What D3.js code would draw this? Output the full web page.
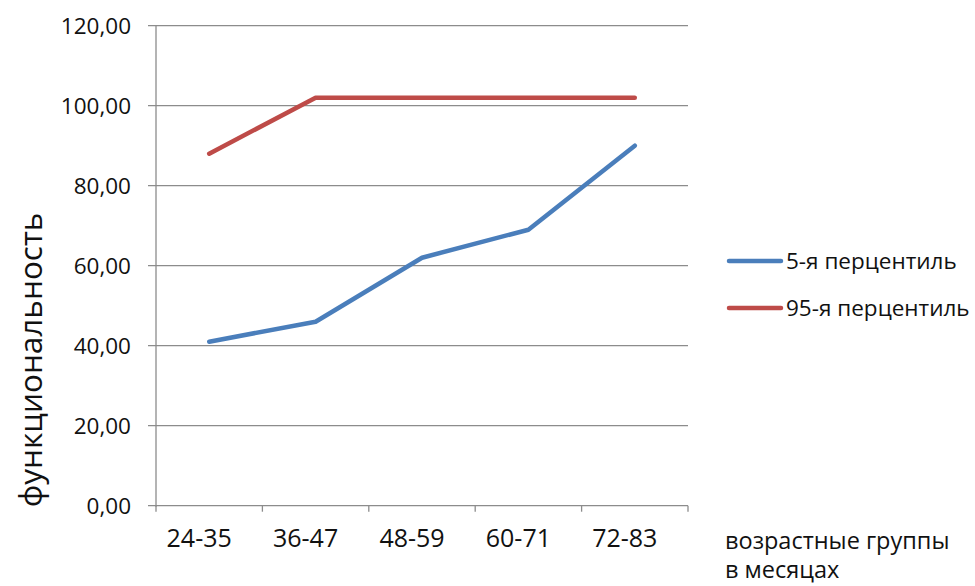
<!DOCTYPE html>
<html><head><meta charset="utf-8">
<script src="https://cdn.jsdelivr.net/npm/d3@7"></script>
<style>body{margin:0;background:#fff}svg{display:block}text{font-family:"Open Sans",sans-serif;fill:#111}</style>
</head><body>
<script>
const categories = ["24-35","36-47","48-59","60-71","72-83"];
const p5 = [41, 46, 62, 69, 90];
const p95 = [88, 102, 102, 102, 102];
const seriesNames = ["5-я перцентиль","95-я перцентиль"];
const yTicks = [0,20,40,60,80,100,120];
const colors = ["#4a7ebb","#be4b48"];

const W=975,H=586;
const svg=d3.select("body").append("svg").attr("width",W).attr("height",H);
const L=156,R=688,T=25.7,B=505.7;
const x=d3.scaleBand().domain(categories).range([L,R]);
const y=d3.scaleLinear().domain([0,120]).range([B,T]);

// gridlines
svg.append("g").selectAll("line").data(yTicks).join("line")
  .attr("x1",L-8).attr("x2",R).attr("y1",d=>y(d)).attr("y2",d=>y(d))
  .attr("stroke","#8c8c8c").attr("stroke-width",1.3);
// y axis line
svg.append("line").attr("x1",L).attr("x2",L).attr("y1",T).attr("y2",B+1).attr("stroke","#8c8c8c").attr("stroke-width",1.3);
// x ticks
const xt=categories.map((c,i)=>x(c)).concat([R]);
svg.append("g").selectAll("line").data(xt).join("line")
  .attr("x1",d=>d).attr("x2",d=>d).attr("y1",B).attr("y2",B+6)
  .attr("stroke","#8c8c8c").attr("stroke-width",1.3);
// y labels
const fmt=d=>d3.format(".2f")(d).replace(".",",");
svg.append("g").selectAll("text").data(yTicks).join("text")
  .attr("x",131).attr("y",d=>y(d)).attr("dy","0.35em").attr("text-anchor","end")
  .attr("font-size",22.5).text(fmt);
// x labels
svg.append("g").selectAll("text").data(categories).join("text")
  .attr("x",d=>x(d)+x.bandwidth()/2-10).attr("y",547).attr("text-anchor","middle")
  .attr("font-size",25).text(d=>d);
// lines
const line=d3.line().x((d,i)=>x(categories[i])+x.bandwidth()/2).y(d=>y(d));
[p5,p95].forEach((s,k)=>{
  svg.append("path").datum(s).attr("d",line).attr("fill","none")
    .attr("stroke",colors[k]).attr("stroke-width",4.5).attr("stroke-linejoin","round").attr("stroke-linecap","round");
});
// legend
const ly=[261,308];
seriesNames.forEach((n,k)=>{
  svg.append("line").attr("x1",729).attr("x2",781).attr("y1",ly[k]).attr("y2",ly[k])
    .attr("stroke",colors[k]).attr("stroke-width",4.5).attr("stroke-linecap","round");
  svg.append("text").attr("x",786).attr("y",ly[k]).attr("dy","0.35em").attr("font-size",22.5).text(n);
});
// axis titles
svg.append("text").attr("transform","translate(42,360) rotate(-90)").attr("text-anchor","middle")
  .attr("font-size",31.5).text("функциональность");
svg.append("text").attr("x",725).attr("y",549).attr("font-size",23.5).text("возрастные группы");
svg.append("text").attr("x",725).attr("y",578).attr("font-size",23.5).text("в месяцах");
</script>
</body></html>
